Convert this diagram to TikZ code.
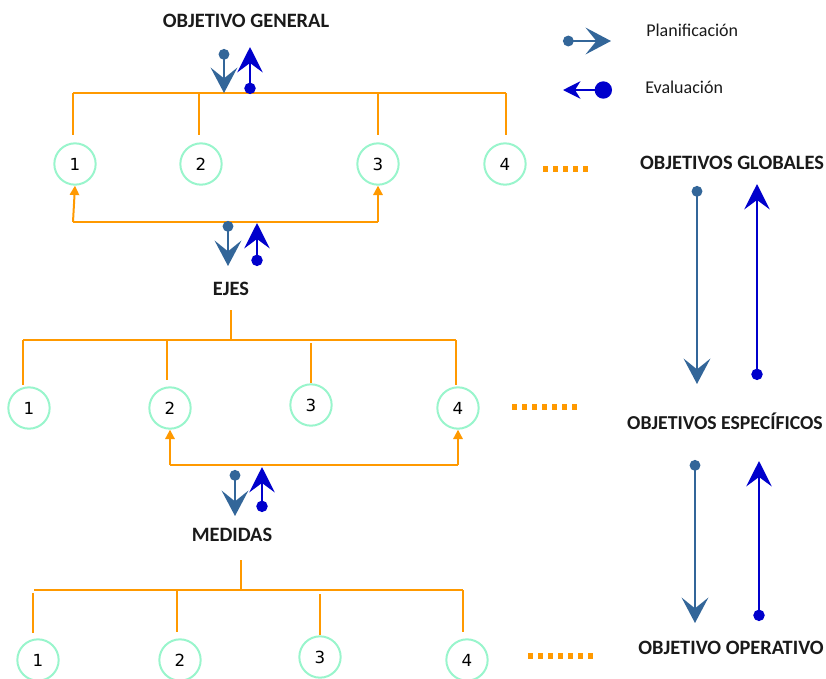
\documentclass[tikz,border=0pt]{standalone}
\usepackage{fontspec}
\setmainfont{Carlito}
\newfontfamily\numfont{DejaVu Sans}
\usetikzlibrary{arrows.meta}
\definecolor{org}{HTML}{FF9900}
\definecolor{mint}{HTML}{99F5CC}
\definecolor{steel}{HTML}{336699}
\definecolor{evb}{HTML}{0000CC}
\definecolor{txt}{HTML}{1A1A1A}
\tikzset{
  num/.style={circle,draw=mint,line width=1.5pt,minimum size=31pt,inner sep=0pt,font=\numfont\fontsize{12.5}{14}\selectfont},
  title/.style={font=\bfseries\fontsize{15.3}{17}\selectfont,text=txt,inner sep=0pt},
  leg/.style={font=\fontsize{13.5}{15}\selectfont,text=txt,inner sep=0pt,anchor=west},
  tree/.style={draw=org,line width=1.5pt},
  orgarr/.style={draw=org,line width=1.5pt,-{Triangle[length=7pt,width=7pt]}},
  dots/.style={draw=org,line width=4pt,dash pattern=on 4pt off 3.5pt},
  plan/.style={draw=steel,line width=2.2pt,{Circle[length=8pt]}-{Stealth[length=19pt,width=20pt,inset=8pt]}},
  eval/.style={draw=evb,line width=1.8pt,{Circle[length=8.5pt]}-{Stealth[length=19pt,width=19pt,inset=7pt]}},
}
\begin{document}
\begin{tikzpicture}[x=0.75pt,y=-0.75pt]
\useasboundingbox (0,0) rectangle (826,679);
% titles
\node[title] (tg) at (246,21) {OBJETIVO GENERAL};
\node[title] (tglob) at (732,163) {OBJETIVOS GLOBALES};
\node[title] (tejes) at (231,289) {EJES};
\node[title,font=\bfseries\fontsize{14.8}{17}\selectfont] (tesp) at (725,421) {OBJETIVOS ESPECÍFICOS};
\node[title] (tmed) at (232,535) {MEDIDAS};
\node[title] (top) at (731,648) {OBJETIVO OPERATIVO};
% legend
\coordinate (lp1) at (563,41); \coordinate (lp2) at (611,41);
\draw[plan] (lp1) -- (lp2);
\node[leg] (lplan) at (646,30) {Planificación};
\coordinate (le1) at (612,90); \coordinate (le2) at (563,90);
\draw[draw=evb,line width=1.8pt,{Circle[length=13pt]}-{Stealth[length=13pt,width=13pt,inset=4pt]}] (le1) -- (le2);
\node[leg] (leval) at (645,87) {Evaluación};
% circles row 1
\node[num] (a1) at (75,164) {1};
\node[num] (a2) at (201,164) {2};
\node[num] (a3) at (378,164) {3};
\node[num] (a4) at (505,164) {4};
% circles row 2
\node[num] (b1) at (29,408) {1};
\node[num] (b2) at (170,408) {2};
\node[num] (b3) at (311,405) {3};
\node[num] (b4) at (458,408) {4};
% circles row 3
\node[num] (c1) at (38,660) {1};
\node[num] (c2) at (180,660) {2};
\node[num] (c3) at (320,657) {3};
\node[num] (c4) at (467,660) {4};
% dotted lines
\coordinate (d1a) at (543,169); \coordinate (d1b) at (591,169);
\draw[dots] (d1a) -- (d1b);
\coordinate (d2a) at (512,407); \coordinate (d2b) at (579,407);
\draw[dots] (d2a) -- (d2b);
\coordinate (d3a) at (528,656); \coordinate (d3b) at (596,656);
\draw[dots] (d3a) -- (d3b);
% tree 1
\coordinate (h1l) at (73,93); \coordinate (h1r) at (506,93);
\draw[tree] (h1l) -- (h1r);
\draw[tree] (h1l) -- (73,135);
\draw[tree] (199,94) -- (199,135);
\draw[tree] (378,94) -- (378,135);
\draw[tree] (506,93) -- (506,135);
% bottom bracket row 1
\coordinate (g1l) at (73,222); \coordinate (g1r) at (378,222);
\draw[tree] (g1l) -- (g1r);
\draw[orgarr] (g1l) -- (a1.south);
\draw[orgarr] (g1r) -- (a3.south);
% tree 2
\coordinate (t2) at (231,310); \coordinate (h2c) at (231,340);
\draw[tree] (t2) -- (h2c);
\coordinate (h2l) at (23,340); \coordinate (h2r) at (456,340);
\draw[tree] (h2l) -- (h2r);
\draw[tree] (h2l) -- (23,385);
\draw[tree] (167,341) -- (167,380);
\draw[tree] (311,343) -- (311,383);
\draw[tree] (456,340) -- (456,385);
% bottom bracket row 2
\coordinate (g2l) at (170,465); \coordinate (g2r) at (458,465);
\draw[tree] (g2l) -- (g2r);
\draw[orgarr] (g2l) -- (b2.south);
\draw[orgarr] (g2r) -- (b4.south);
% tree 3
\coordinate (t3) at (241,560); \coordinate (h3c) at (241,590);
\draw[tree] (t3) -- (h3c);
\coordinate (h3l) at (34,590); \coordinate (h3r) at (463,590);
\draw[tree] (h3l) -- (h3r);
\draw[tree] (33,593) -- (33,633);
\draw[tree] (177,591) -- (177,632);
\draw[tree] (320,594) -- (320,635);
\draw[tree] (463,590) -- (463,632);
% small arrows
\draw[plan] (224,49) -- (224,93);
\draw[eval] (250,94) -- (250,47);
\draw[plan] (228,221) -- (228,266);
\draw[eval] (257,266) -- (257,223);
\draw[plan] (235,470) -- (235,516);
\draw[eval] (262,512) -- (262,467);
% long arrows
\draw[plan] (697,186) -- (697,384);
\draw[eval] (757,380) -- (757,184);
\draw[plan] (695,460) -- (695,623);
\draw[eval] (759,621) -- (759,461);
\end{tikzpicture}
\end{document}
